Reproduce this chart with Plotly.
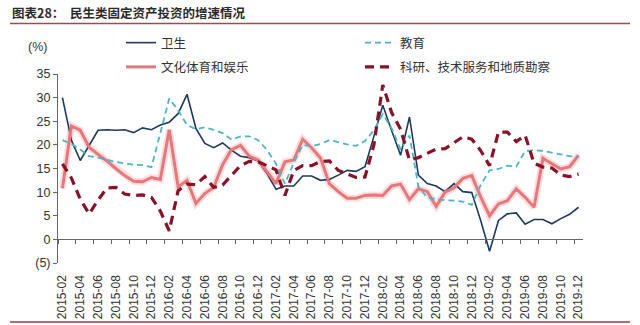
import pandas as pd
import plotly.graph_objects as go

# Monthly categories, 2015-02 .. 2019-12
months = [str(p) for p in pd.period_range("2015-02", "2019-12", freq="M")]

# Cumulative YoY growth of fixed-asset investment (%)
health = [30.0, 21.0, 16.7, 19.8, 23.1, 23.2, 23.1, 23.2, 22.6, 23.6, 23.2, 24.2, 24.8, 26.6, 30.7,
          23.5, 20.3, 19.4, 20.4, 18.9, 17.6, 17.3, 16.6, 13.9, 10.6, 11.3, 11.3, 13.4, 13.4, 12.5,
          12.7, 13.6, 14.6, 14.4, 15.4, 21.8, 28.4, 23.0, 17.8, 25.9, 13.6, 11.8, 11.3, 10.1, 11.8,
          10.1, 9.9, 4.0, -2.5, 4.0, 5.4, 5.6, 3.2, 4.2, 4.2, 3.3, 4.4, 5.3, 6.8]
education = [21.0, 20.2, 19.0, 17.6, 17.3, 16.8, 16.4, 16.1, 15.8, 15.7, 15.3, 22.5, 29.8, 27.3, 24.2,
             23.3, 23.7, 23.2, 22.5, 21.1, 21.8, 21.8, 21.0, 18.9, 16.0, 11.8, 16.2, 20.0, 19.7, 20.2,
             21.0, 20.6, 20.1, 19.8, 20.8, 23.1, 26.5, 23.5, 19.0, 22.0, 11.2, 8.8, 8.5, 8.3, 8.2,
             8.0, 7.3, 11.5, 14.6, 14.9, 15.6, 15.4, 18.7, 18.9, 18.7, 18.4, 18.0, 17.6, 17.5]
culture = [10.8, 24.0, 23.1, 19.5, 18.0, 16.6, 15.0, 13.5, 12.3, 12.2, 13.1, 12.7, 23.2, 11.1, 12.5,
           7.6, 9.7, 11.0, 15.8, 19.0, 19.9, 17.6, 16.8, 14.4, 11.8, 16.4, 16.8, 21.2, 19.4, 17.2,
           11.8, 10.1, 8.7, 8.7, 9.3, 9.4, 9.3, 11.3, 11.7, 8.4, 10.7, 10.1, 7.0, 10.0, 10.9,
           12.9, 13.5, 9.0, 5.0, 7.5, 8.2, 10.7, 8.9, 6.8, 17.2, 16.0, 14.9, 15.4, 17.8]
research = [16.0, 13.0, 8.5, 5.4, 8.3, 10.9, 11.0, 9.6, 9.3, 9.4, 8.9, 6.0, 1.8, 10.3, 11.7,
            11.6, 13.3, 11.0, 11.5, 13.5, 15.6, 16.5, 16.4, 15.6, 14.7, 9.3, 14.6, 15.6, 15.6, 16.5,
            16.6, 14.6, 13.9, 13.1, 13.2, 20.0, 32.7, 26.8, 23.3, 16.8, 17.3, 18.2, 19.1, 19.2, 20.5,
            21.7, 21.2, 18.8, 15.6, 22.7, 22.7, 20.7, 22.0, 16.1, 15.3, 15.1, 13.6, 13.3, 13.8]

y_ticks = [-5, 0, 5, 10, 15, 20, 25, 30, 35]
y_ticktext = ["(5)", "0", "5", "10", "15", "20", "25", "30", "35"]

W, H = 640, 325
ML, MR, MT, MB = 58, 57, 74, 62
PW, PH = W - ML - MR, H - MT - MB


def px_x(x):
    return (x - ML) / PW


def px_y(y):
    return (H - MB - y) / PH


CJK = "Noto Sans CJK SC"
TXT = "#333333"

fig = go.Figure()

# soft halo under the culture line
fig.add_trace(go.Scatter(x=months, y=culture, mode="lines", showlegend=False, hoverinfo="skip",
                         line=dict(color="rgba(240,160,160,0.35)", width=7)))

fig.add_trace(go.Scatter(x=months, y=health, mode="lines", name="卫生",
                         legend="legend", legendgroup="a",
                         line=dict(color="#1f3a5c", width=1.6)))
fig.add_trace(go.Scatter(x=months, y=culture, mode="lines", name="文化体育和娱乐",
                         legend="legend", legendgroup="b",
                         line=dict(color="#e5787c", width=3)))
fig.add_trace(go.Scatter(x=months, y=education, mode="lines", name="教育",
                         legend="legend2", legendgroup="c",
                         line=dict(color="#4fb3c8", width=1.8, dash="6px,4px")))
fig.add_trace(go.Scatter(x=months, y=research, mode="lines", name="科研、技术服务和地质勘察",
                         legend="legend2", legendgroup="d",
                         line=dict(color="#861327", width=3.2, dash="9px,6px")))

legend_common = dict(orientation="v", yanchor="top", xanchor="left", bgcolor="rgba(0,0,0,0)",
                     font=dict(family=CJK, size=12.5, color=TXT), tracegroupgap=5,
                     itemclick=False, itemdoubleclick=False)

fig.update_layout(
    width=W, height=H,
    margin=dict(l=ML, r=MR, t=MT, b=MB, autoexpand=False),
    paper_bgcolor="white", plot_bgcolor="white",
    font=dict(family="Liberation Sans, Arial", size=12, color=TXT),
    legend=dict(x=px_x(121), y=px_y(28), **legend_common),
    legend2=dict(x=px_x(360), y=px_y(28), **legend_common),
    xaxis=dict(
        type="category", categoryorder="array", categoryarray=months,
        range=[-0.5, len(months) - 0.5],
        anchor="free", position=5 / 40,
        showline=True, linecolor="#666666", linewidth=1,
        ticks="outside", ticklen=4, tickcolor="#666666", tickson="boundaries",
        tickmode="linear", tick0=0, dtick=2, tickangle=-90,
        ticklabelstandoff=30,
        tickfont=dict(family="Liberation Sans, Arial", size=12, color=TXT),
        showgrid=False, zeroline=False, automargin=False,
    ),
    yaxis=dict(
        range=[-5, 35], tickmode="array", tickvals=y_ticks, ticktext=y_ticktext,
        showline=True, linecolor="#666666", linewidth=1,
        ticks="outside", ticklen=4, tickcolor="#666666",
        tickfont=dict(family="Liberation Sans, Arial", size=12.5, color=TXT),
        showgrid=False, zeroline=False, automargin=False,
    ),
    annotations=[
        dict(text="<b>图表28：  民生类固定资产投资的增速情况</b>", xref="paper", yref="paper",
             x=px_x(10), y=px_y(13), xanchor="left", yanchor="middle", showarrow=False,
             font=dict(family=CJK, size=12.5, color="#2b2b2b")),
        dict(text="(%)", xref="paper", yref="paper", x=px_x(37), y=px_y(47),
             xanchor="center", yanchor="middle", showarrow=False,
             font=dict(family="Liberation Sans, Arial", size=12.5, color=TXT)),
    ],
    shapes=[
        dict(type="line", xref="paper", yref="paper", x0=px_x(10), x1=px_x(630),
             y0=px_y(23.5), y1=px_y(23.5), line=dict(color="#a24a4c", width=1.5)),
        dict(type="line", xref="paper", yref="paper", x0=px_x(10), x1=px_x(630),
             y0=px_y(322), y1=px_y(322), line=dict(color="#b86a6c", width=2)),
    ],
)

fig.write_html("out.html")
